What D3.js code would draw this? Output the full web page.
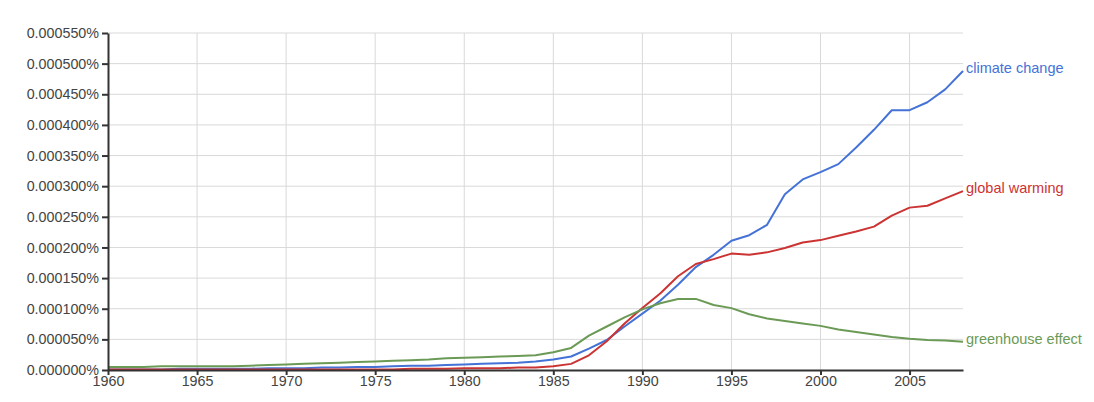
<!DOCTYPE html>
<html>
<head>
<meta charset="utf-8">
<script src="https://cdn.jsdelivr.net/npm/d3@7.9.0/dist/d3.min.js"></script>
<style>
  body { margin: 0; background: #fff; }
  svg { display: block; font-family: Arial, "Liberation Sans", sans-serif; }
</style>
</head>
<body>
<div id="chart"></div>
<script>
// years 1960..2008, values in millionths of a percent
const years = d3.range(1960, 2009);
const yTicks = [0, 50, 100, 150, 200, 250, 300, 350, 400, 450, 500, 550];
const xTicks = [1960, 1965, 1970, 1975, 1980, 1985, 1990, 1995, 2000, 2005];

const climateChange = [1, 1, 1, 1, 2, 2, 2, 2, 2, 3, 3, 3, 4, 4, 5, 5, 6, 7, 7, 8,
  9, 10, 11, 12, 14, 17, 22, 35, 49, 71, 92, 113, 139, 168, 188, 211, 220, 237, 287, 311,
  323, 336, 363, 392, 424, 424, 437, 458, 488];
const globalWarming = [1, 1, 1, 1, 1, 1, 1, 1, 1, 1, 1, 1, 1, 1, 1, 1, 1, 2, 2, 2,
  3, 3, 3, 4, 4, 6, 10, 24, 47, 76, 101, 125, 153, 173, 181, 190, 188, 192, 199, 208,
  212, 219, 226, 234, 252, 265, 268, 280, 292];
const greenhouseEffect = [5, 5, 5, 6, 6, 6, 6, 6, 7, 8, 9, 10, 11, 12, 13, 14, 15, 16, 17, 19,
  20, 21, 22, 23, 24, 29, 36, 56, 71, 86, 99, 109, 116, 116, 106, 101, 91, 84, 80, 76,
  72, 66, 62, 58, 54, 51, 49, 48, 46];

const series = [
  { name: 'climate change', values: climateChange, color: '#4472d6' },
  { name: 'global warming', values: globalWarming, color: '#cc3333' },
  { name: 'greenhouse effect', values: greenhouseEffect, color: '#6b9a56' }
];

const width = 1094, height = 402;
const margin = { top: 33, right: 131, bottom: 32, left: 108 };

const svg = d3.select('#chart').append('svg')
  .attr('width', width)
  .attr('height', height);

const x = d3.scaleLinear().domain([1960, 2008]).range([margin.left, width - margin.right]);
const y = d3.scaleLinear().domain([0, 550]).range([height - margin.bottom, margin.top]);

// grid
svg.append('g').selectAll('line').data(yTicks.slice(1)).join('line')
  .attr('x1', margin.left).attr('x2', width - margin.right)
  .attr('y1', d => y(d)).attr('y2', d => y(d))
  .attr('stroke', '#d9d9d9').attr('stroke-width', 1);
svg.append('g').selectAll('line').data(xTicks.slice(1)).join('line')
  .attr('x1', d => x(d)).attr('x2', d => x(d))
  .attr('y1', y(0)).attr('y2', y(550))
  .attr('stroke', '#d9d9d9').attr('stroke-width', 1);

// lines
const line = d3.line().x((d, i) => x(years[i])).y(d => y(d));
series.forEach(s => {
  svg.append('path')
    .attr('d', line(s.values))
    .attr('fill', 'none')
    .attr('stroke', s.color)
    .attr('stroke-width', 2)
    .attr('stroke-linejoin', 'round');
  const last = s.values[s.values.length - 1];
  svg.append('text')
    .attr('x', x(2008) + 3)
    .attr('y', y(last) - 3)
    .attr('dy', '0.35em')
    .attr('fill', s.color)
    .attr('font-size', 14.5)
    .text(s.name);
});

// axes
const fmt = d => (d / 1e6).toFixed(6) + '%';
const yAxis = svg.append('g')
  .attr('transform', `translate(${margin.left},0)`)
  .call(d3.axisLeft(y).tickValues(yTicks).tickFormat(fmt).tickSize(6).tickSizeOuter(0));
yAxis.select('.domain').attr('stroke', '#333').attr('stroke-width', 2);
yAxis.selectAll('.tick line').attr('stroke', '#333').attr('stroke-width', 2);
yAxis.selectAll('.tick text').attr('fill', '#444').attr('font-size', 14.3).attr('x', -9);

const xAxis = svg.append('g')
  .attr('transform', `translate(0,${height - margin.bottom})`)
  .call(d3.axisBottom(x).tickValues(xTicks).tickFormat(d3.format('d')).tickSize(5).tickSizeOuter(0));
xAxis.select('.domain').attr('stroke', '#333').attr('stroke-width', 2);
xAxis.selectAll('.tick line').attr('stroke', '#333').attr('stroke-width', 2);
xAxis.selectAll('.tick text').attr('fill', '#444').attr('font-size', 14.3).attr('y', 6);
svg.selectAll('.tick text').attr('font-family', 'Arial, "Liberation Sans", sans-serif');
</script>
</body>
</html>
